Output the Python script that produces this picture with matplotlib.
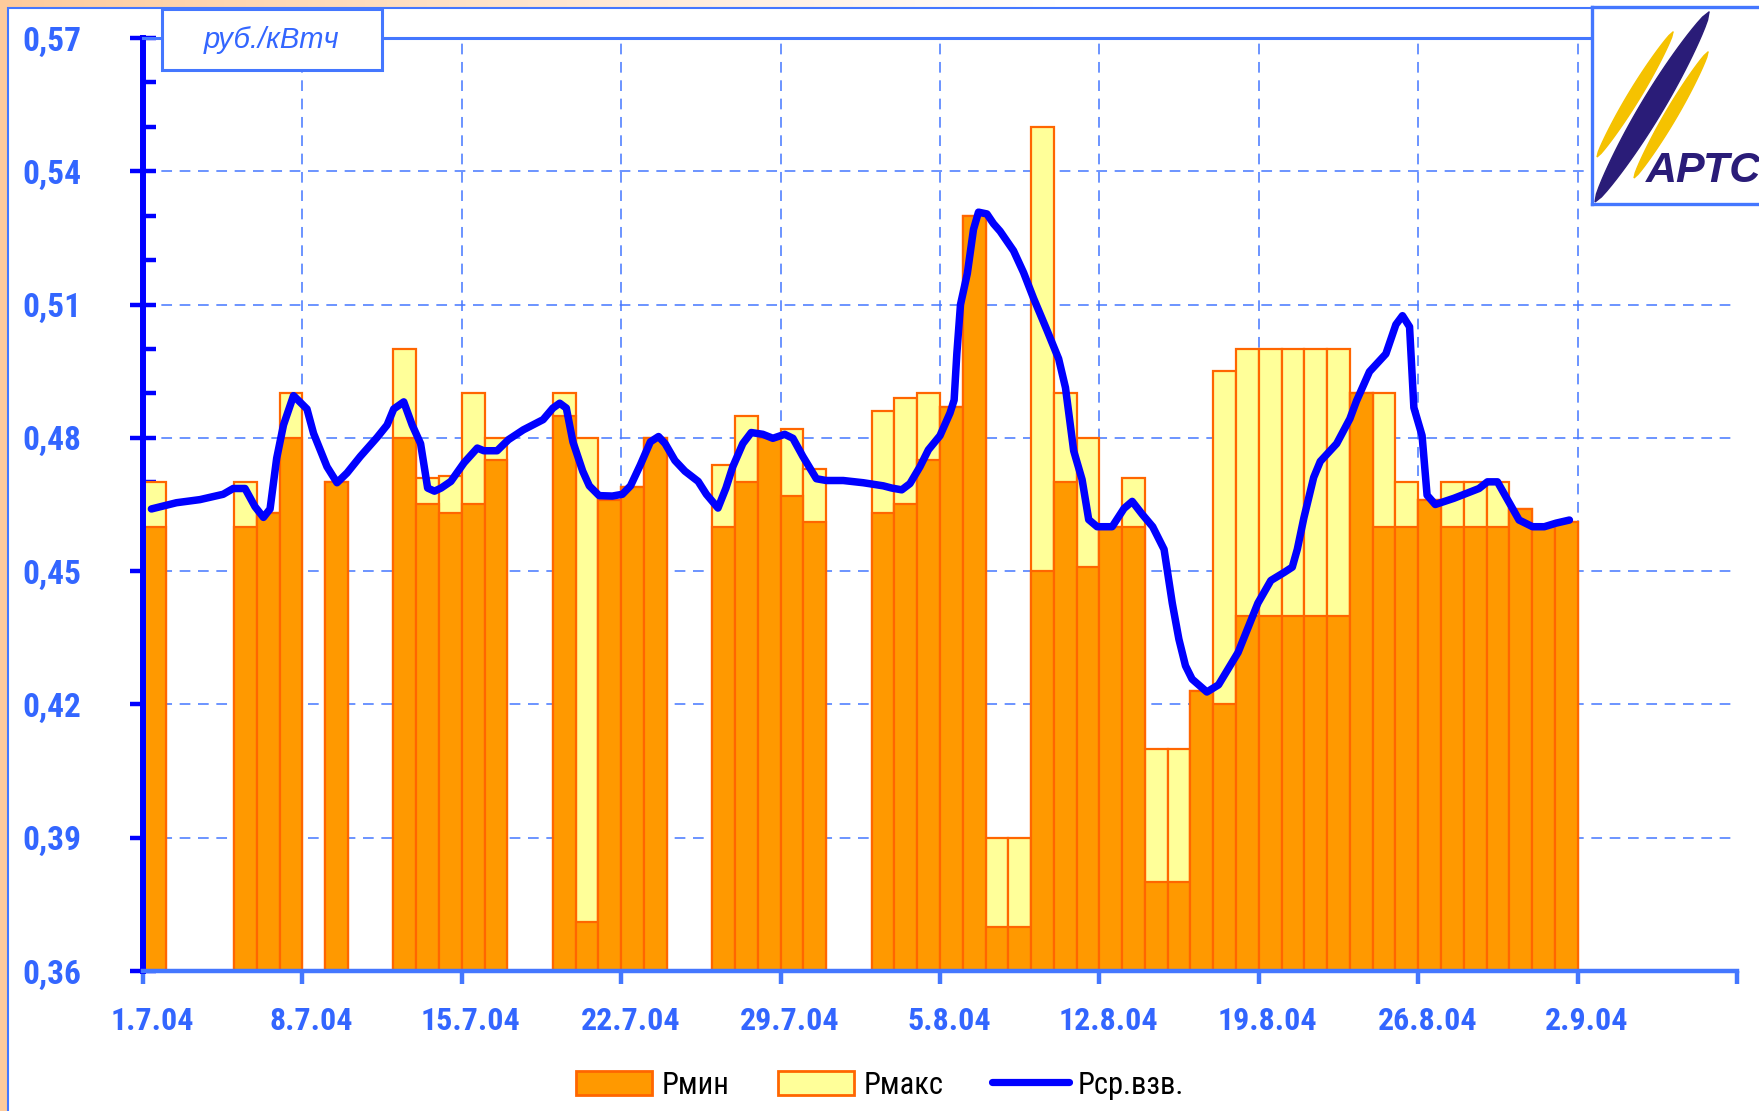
import matplotlib
matplotlib.use('Agg')
import matplotlib.pyplot as plt
import matplotlib.transforms as mtransforms
import numpy as np
from matplotlib.patches import Rectangle, Polygon, Patch
from matplotlib.lines import Line2D

# ---------------- data ----------------
# day index: 0 = 1.7.04
bar_days = [0, 4, 5, 6, 8, 11, 12, 13, 14, 15, 18, 19, 20, 21, 22, 25, 26, 27, 28, 29,
            32, 33, 34, 35, 36, 37, 38, 39, 40, 41, 42, 43, 44, 45, 46, 47, 48, 49, 50,
            51, 52, 53, 54, 55, 56, 57, 58, 59, 60, 61, 62]
p_min = [0.460, 0.460, 0.463, 0.480, 0.470, 0.480, 0.465, 0.463, 0.465, 0.475, 0.485, 0.371,
         0.466, 0.469, 0.480, 0.460, 0.470, 0.480, 0.467, 0.461,
         0.463, 0.465, 0.475, 0.487, 0.530, 0.370, 0.370, 0.450, 0.470, 0.451, 0.460, 0.460,
         0.380, 0.380, 0.423, 0.420, 0.440, 0.440, 0.440, 0.440, 0.440, 0.490, 0.460, 0.460,
         0.466, 0.460, 0.460, 0.460, 0.464, 0.460, 0.461]
p_max = [0.470, 0.470, 0.463, 0.490, 0.470, 0.500, 0.471, 0.4715, 0.490, 0.480, 0.490, 0.480,
         0.466, 0.469, 0.480, 0.474, 0.485, 0.480, 0.482, 0.473,
         0.486, 0.489, 0.490, 0.487, 0.530, 0.390, 0.390, 0.550, 0.490, 0.480, 0.460, 0.471,
         0.410, 0.410, 0.423, 0.495, 0.500, 0.500, 0.500, 0.500, 0.500, 0.490, 0.490, 0.470,
         0.466, 0.470, 0.470, 0.470, 0.464, 0.460, 0.461]

line_days = [0.37, 1.47, 2.5, 3.52, 3.96, 4.48, 4.92, 5.29, 5.58, 5.87, 6.17, 6.61, 7.2, 7.49,
             8.08, 8.52, 8.96, 9.54, 10.28, 10.72, 11.01, 11.45, 11.82, 12.19, 12.5, 12.8,
             13.09, 13.52, 14.1, 14.68, 14.97, 15.55, 16.05, 16.7, 17.57, 18.0, 18.3, 18.59,
             18.88, 19.31, 19.6, 20.03, 20.61, 21.05, 21.41, 21.84, 22.28, 22.64, 22.93, 23.36,
             23.8, 24.38, 24.74, 25.25, 25.6, 25.9, 26.34, 26.71, 27.22, 27.66, 28.18, 28.54,
             28.98, 29.57, 30.01, 30.75, 31.63, 32.51, 32.88, 33.32, 33.68, 34.12, 34.49, 35.0,
             35.44, 35.62, 35.74, 35.9, 36.2, 36.47, 36.69, 37.06, 37.35, 37.64, 38.23, 38.67,
             39.11, 39.7, 40.21, 40.51, 40.87, 41.24, 41.53, 41.9, 42.56, 43.08, 43.44, 43.88,
             44.34, 44.84, 45.2, 45.49, 45.78, 46.07, 46.72, 47.23, 48.09, 48.96, 49.53, 50.11,
             50.47, 50.69, 50.98, 51.41, 51.7, 52.42, 53.0, 53.29, 53.86, 54.58, 55.02, 55.31,
             55.62, 55.81, 56.17, 56.39, 56.75, 57.57, 58.67, 59.04, 59.48, 59.92, 60.43, 61.02,
             61.54, 62.05, 62.64]
line_vals = [0.4640, 0.4654, 0.4661, 0.4673, 0.4686, 0.4686, 0.4645, 0.4621, 0.4640, 0.4754,
             0.4829, 0.4895, 0.4865, 0.4810, 0.4735, 0.4699, 0.4721, 0.4758, 0.4801, 0.4829,
             0.4865, 0.4881, 0.4829, 0.4787, 0.4687, 0.4680, 0.4687, 0.4702, 0.4744, 0.4777,
             0.4771, 0.4771, 0.4796, 0.4818, 0.4841, 0.4867, 0.4878, 0.4867, 0.4791, 0.4725,
             0.4692, 0.4670, 0.4669, 0.4673, 0.4692, 0.4739, 0.4791, 0.4803, 0.4787, 0.4749,
             0.4725, 0.4702, 0.4673, 0.4642, 0.4687, 0.4735, 0.4787, 0.4812, 0.4808, 0.4799,
             0.4808, 0.4799, 0.4758, 0.4708, 0.4704, 0.4704, 0.4699, 0.4692, 0.4687, 0.4683,
             0.4697, 0.4735, 0.4773, 0.4805, 0.4856, 0.4885, 0.4990, 0.5100, 0.5170, 0.5269,
             0.5308, 0.5304, 0.5282, 0.5265, 0.5221, 0.5172, 0.5114, 0.5042, 0.4978, 0.4913,
             0.4771, 0.4706, 0.4616, 0.4600, 0.4600, 0.4641, 0.4657, 0.4628, 0.4600, 0.4549,
             0.4428, 0.4347, 0.4287, 0.4257, 0.4228, 0.4244, 0.4317, 0.4428, 0.4479, 0.4497,
             0.4509, 0.4549, 0.4620, 0.4711, 0.4747, 0.4787, 0.4843, 0.4883, 0.4949, 0.4989,
             0.5055, 0.5075, 0.5050, 0.4868, 0.4805, 0.4671, 0.4650, 0.4664, 0.4686, 0.4701,
             0.4701, 0.4661, 0.4615, 0.4600, 0.4600, 0.4608, 0.4615]

x_tick_days = [0, 7, 14, 21, 28, 35, 42, 49, 56, 63, 70]
x_tick_labels = ['1.7.04', '8.7.04', '15.7.04', '22.7.04', '29.7.04', '5.8.04',
                 '12.8.04', '19.8.04', '26.8.04', '2.9.04', '']
y_ticks = [0.36, 0.39, 0.42, 0.45, 0.48, 0.51, 0.54, 0.57]
y_tick_labels = ['0,36', '0,39', '0,42', '0,45', '0,48', '0,51', '0,54', '0,57']
y_minor = [0.37, 0.38, 0.40, 0.41, 0.43, 0.44, 0.46, 0.47, 0.49, 0.50, 0.52, 0.53, 0.55, 0.56]
unit_label = 'руб./кВтч'
legend_labels = ['Рмин', 'Рмакс', 'Рср.взв.']

# ---------------- style ----------------
W, H = 1759, 1111
NARROW = ['Roboto Condensed', 'Liberation Sans Narrow', 'Liberation Sans', 'DejaVu Sans']
SANS = ['Liberation Sans', 'DejaVu Sans']
C_ORANGE = '#FF9900'
C_EDGE = '#FF6600'
C_YELLOW = '#FFFF99'
C_LINE = '#0000FF'
C_AXBLUE = '#4477FF'
C_TEXT = '#3366FF'
C_PEACH = np.array([253, 203, 156]) / 255.0

fig = plt.figure(figsize=(W / 100, H / 100), dpi=100)

# background gradient (peach to white)
bg = fig.add_axes([0, 0, 1, 1], zorder=-10)
gx = np.linspace(0, 1, 400)
t = np.clip(gx / 0.6, 0, 1)
grad = (C_PEACH[None, :] * (1 - t[:, None]) + np.ones(3)[None, :] * t[:, None])
bg.imshow(grad[None, :, :], extent=[0, 1, 0, 1], aspect='auto')
bg.axis('off')

# white panel
fig.patches.append(Rectangle((8 / W, -0.01), 1.0, (H - 8) / H + 0.01, transform=fig.transFigure,
                             facecolor='white', edgecolor=C_AXBLUE, lw=1.5, zorder=-5))

# main axes
x0, x1 = 143, 1737
yb, yt = 971, 38
ax = fig.add_axes([x0 / W, (H - yb) / H, (x1 - x0) / W, (yb - yt) / H])
ax.set_facecolor('none')
ax.set_xlim(0, 70)
ax.set_ylim(0.36, 0.57)

# grid
for yv in y_ticks[1:-1]:
    ax.axhline(yv, color=C_AXBLUE, lw=1.1, ls=(0, (7, 5)), zorder=0.5)
for xv in x_tick_days[1:-1]:
    ax.axvline(xv, color=C_AXBLUE, lw=1.1, ls=(0, (7, 5)), zorder=0.5)

# bars
base = 0.36
ax.bar(bar_days, [v - base for v in p_max], bottom=base, width=1.0, align='edge',
       color=C_YELLOW, edgecolor=C_EDGE, lw=1.6, zorder=2)
ax.bar(bar_days, [v - base for v in p_min], bottom=base, width=1.0, align='edge',
       color=C_ORANGE, edgecolor=C_EDGE, lw=1.6, zorder=3)

# weighted average line
ax.plot(line_days, line_vals, color=C_LINE, lw=5.4, solid_joinstyle='round',
        solid_capstyle='round', zorder=4)

# spines
ax.spines['right'].set_visible(False)
ax.spines['left'].set_color(C_LINE)
ax.spines['left'].set_linewidth(4.3)
ax.spines['bottom'].set_color(C_AXBLUE)
ax.spines['bottom'].set_linewidth(3.2)
ax.spines['top'].set_color(C_AXBLUE)
ax.spines['top'].set_linewidth(2.2)
for s in ax.spines.values():
    s.set_zorder(5)

ax.set_yticks(y_ticks)
ax.set_yticklabels(y_tick_labels)
ax.set_yticks(y_minor, minor=True)
ax.tick_params(axis='y', which='major', direction='inout', length=19, width=3.2,
               color=C_LINE, pad=35, labelsize=24, labelcolor=C_TEXT)
ax.tick_params(axis='y', which='minor', direction='in', length=9, width=3.2, color=C_LINE)
ax.set_xticks(x_tick_days)
ax.set_xticklabels(x_tick_labels)
ax.tick_params(axis='x', which='major', direction='out', length=9, width=3.2,
               color=C_AXBLUE, pad=16, labelsize=23, labelcolor=C_TEXT)
for lab in ax.get_yticklabels() + ax.get_xticklabels():
    lab.set_family(NARROW)
    lab.set_fontweight('bold')
xshift = mtransforms.ScaledTranslation(9 / 100, 0, fig.dpi_scale_trans)
for lab in ax.get_xticklabels():
    lab.set_transform(lab.get_transform() + xshift)

# unit box
fig.patches.append(Rectangle((162 / W, 1 - 70 / H), 220 / W, 61 / H, transform=fig.transFigure,
                             facecolor='white', edgecolor=C_AXBLUE, lw=2.2, zorder=6))
fig.text(272 / W, 1 - 40 / H, unit_label, ha='center', va='center', fontsize=21,
         fontstyle='italic', color=C_TEXT, family=SANS, zorder=7)

# logo
lx0, ly0, ly1 = 1592, 7, 204
lax = fig.add_axes([lx0 / W, 1 - ly1 / H, (W - lx0 + 10) / W, (ly1 - ly0) / H], zorder=6)
lax.set_xlim(lx0, W + 10)
lax.set_ylim(ly1, ly0)
lax.set_facecolor('white')
lax.set_xticks([])
lax.set_yticks([])
lax.spines['right'].set_visible(False)
for k in ['left', 'top', 'bottom']:
    lax.spines[k].set_color(C_AXBLUE)
    lax.spines[k].set_linewidth(2.4)
C_NAVY = '#2A1C78'
C_GOLD = '#F5C200'


def leaf(p0, p1, hw):
    p0 = np.array(p0, float)
    p1 = np.array(p1, float)
    d = p1 - p0
    n = np.array([-d[1], d[0]]) / np.hypot(*d)
    tt = np.linspace(0, 1, 30)
    prof = hw * np.sin(np.pi * tt) ** 0.6
    side1 = p0 + tt[:, None] * d + prof[:, None] * n
    side2 = p0 + tt[::-1, None] * d - prof[::-1, None] * n
    return np.vstack([side1, side2])


lax.add_patch(Polygon(leaf((1597, 157), (1673, 32), 6), closed=True, color=C_GOLD))
lax.add_patch(Polygon(leaf((1634, 178), (1708, 52), 6), closed=True, color=C_GOLD))
lax.add_patch(Polygon(leaf((1595, 202), (1709, 12), 11), closed=True, color=C_NAVY))
lax.text(1646, 182, 'АРТС', fontsize=31, fontweight='bold', fontstyle='italic',
         color=C_NAVY, family=SANS, ha='left', va='baseline')

# legend
handles = [Patch(facecolor=C_ORANGE, edgecolor=C_EDGE, lw=2),
           Patch(facecolor=C_YELLOW, edgecolor=C_EDGE, lw=2),
           Line2D([0], [0], color=C_LINE, lw=5.2, solid_capstyle='round')]
leg = fig.legend(handles, legend_labels, loc='center', bbox_to_anchor=(880 / W, 26 / H),
                 ncol=3, frameon=False, prop={'family': NARROW, 'size': 22},
                 handlelength=2.5, handleheight=0.8, handletextpad=0.3, columnspacing=1.6)

fig.savefig('out.png', dpi=100)
